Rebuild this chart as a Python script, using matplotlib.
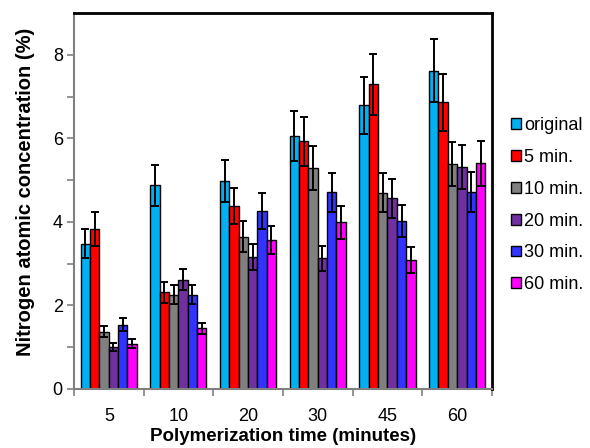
import numpy as np
import matplotlib
matplotlib.use("Agg")
from matplotlib import pyplot as plt

plt.rcParams['font.family'] = ['Liberation Sans', 'DejaVu Sans']

# 聚合时间分组
groups = ["5", "10", "20", "30", "45", "60"]
series = ["original", "5 min.", "10 min.", "20 min.", "30 min.", "60 min."]
colors = ["#00B0F0", "#FF0000", "#808080", "#7030A0", "#3333FF", "#FF00FF"]

# 每个系列在 6 个分组中的数值
original = [3.48, 4.88, 4.98, 6.05, 6.79, 7.62]
min5 = [3.83, 2.31, 4.38, 5.93, 7.29, 6.86]
min10 = [1.37, 2.26, 3.65, 5.29, 4.70, 5.38]
min20 = [1.00, 2.62, 3.16, 3.13, 4.56, 5.31]
min30 = [1.54, 2.26, 4.26, 4.71, 4.02, 4.71]
min60 = [1.08, 1.45, 3.57, 3.99, 3.08, 5.40]

# 误差
err_original = [0.35, 0.49, 0.50, 0.60, 0.68, 0.76]
err_min5 = [0.40, 0.24, 0.44, 0.59, 0.74, 0.69]
err_min10 = [0.13, 0.22, 0.37, 0.53, 0.46, 0.53]
err_min20 = [0.10, 0.26, 0.32, 0.30, 0.46, 0.53]
err_min30 = [0.15, 0.22, 0.42, 0.47, 0.38, 0.48]
err_min60 = [0.11, 0.14, 0.34, 0.40, 0.31, 0.54]

values = [original, min5, min10, min20, min30, min60]
errors = [err_original, err_min5, err_min10, err_min20, err_min30, err_min60]

fig = plt.figure(figsize=(5.9, 4.48), dpi=100)
ax = fig.add_axes([0.1254, 0.1317, 0.7085, 0.8393])

x = np.arange(len(groups))
w = 0.134
for i in range(len(series)):
    pos = x + (i - 2.5) * w
    ax.bar(pos, values[i], w, color=colors[i], edgecolor="black", linewidth=1.0,
           label=series[i], zorder=2)
    ax.errorbar(pos, values[i], yerr=errors[i], fmt="none", ecolor="black",
                elinewidth=1.4, capsize=2.7, capthick=1.4, zorder=3)

ax.set_xlim(-0.5, len(groups) - 0.5)
ax.set_ylim(0, 9)
ax.set_yticks([0, 2, 4, 6, 8])
ax.set_yticks([1, 3, 5, 7], minor=True)
ax.tick_params(axis="y", which="both", length=5, width=1.2, color="#808080",
               labelsize=13, pad=3)

# x 轴：刻度在分组边界，标签在分组中间
ax.set_xticks(np.arange(-0.5, len(groups)), minor=False)
ax.set_xticklabels([""] * (len(groups) + 1))
ax.set_xticks(x, minor=True)
ax.set_xticklabels(groups, minor=True)
ax.tick_params(axis="x", which="major", length=5, width=1.2, color="#808080")
ax.tick_params(axis="x", which="minor", length=0, labelsize=13, pad=14)

for s in ["left", "bottom"]:
    ax.spines[s].set_color("#808080")
    ax.spines[s].set_linewidth(1.5)
for s in ["top", "right"]:
    ax.spines[s].set_color("black")
    ax.spines[s].set_linewidth(2)

ax.set_xlabel("Polymerization time (minutes)", fontsize=13.5, fontweight="bold", va="center")
ax.xaxis.set_label_coords(0.5, -0.127)
ax.set_ylabel("Nitrogen atomic concentration (%)", fontsize=14.5, fontweight="bold", va="center")
ax.yaxis.set_label_coords(-0.117, 0.525)

ax.legend(loc="center left", bbox_to_anchor=(1.045, 0.489), frameon=False, fontsize=13,
          handlelength=0.55, handleheight=0.55, handletextpad=0.2, labelspacing=0.82,
          borderaxespad=0, borderpad=0)

plt.savefig("out.png", dpi=100)
